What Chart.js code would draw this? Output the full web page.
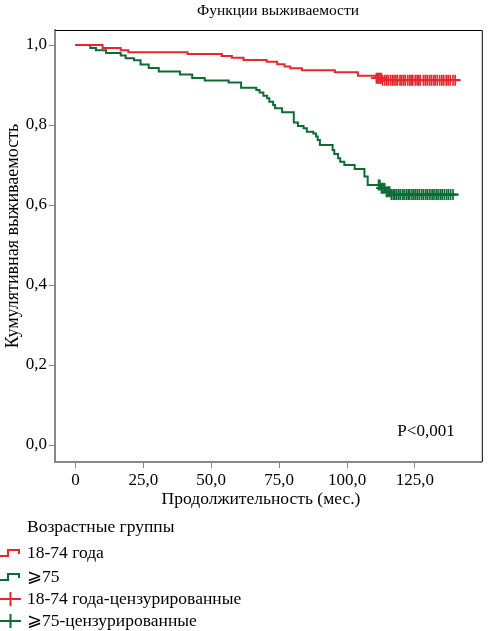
<!DOCTYPE html>
<html>
<head>
<meta charset="utf-8">
<script src="https://cdn.jsdelivr.net/npm/chart.js@4.4.1/dist/chart.umd.min.js"></script>
<style>body{margin:0;background:#fff}</style>
</head>
<body>
<canvas id="myChart" width="489" height="631"></canvas>
<script>
// Kaplan-Meier steps (months, cumulative survival)
const youngTimes = [0, 10, 16.7, 19.5, 41.3, 53.9, 57.6, 61.9, 70.4, 74.3, 77, 79.1, 83.4, 95.5, 104, 110.7, 113, 141.6];
const youngSurv  = [1.0, 0.9925, 0.987, 0.982, 0.9775, 0.9725, 0.968, 0.9625, 0.958, 0.952, 0.946, 0.942, 0.937, 0.932, 0.923, 0.917, 0.912, 0.912];

const oldTimes = [0, 5.5, 7.6, 11.3, 16.7, 18.5, 21.6, 24, 27, 30.7, 38.5, 43, 47.6, 56.4, 61, 66.6, 67.8, 69.2, 70.6, 71.4, 72.8, 73.5, 76.1, 80.4, 81.9, 84, 85.2, 87.6, 88.6, 89.2, 90, 94.7, 95.3, 96.7, 97.5, 99, 102.8, 106.4, 107.6, 112.5, 114.3, 116.1, 141];
const oldSurv  = [1.0, 0.9925, 0.987, 0.98, 0.974, 0.967, 0.962, 0.951, 0.9425, 0.934, 0.926, 0.9175, 0.911, 0.906, 0.893, 0.8875, 0.881, 0.873, 0.867, 0.858, 0.85, 0.842, 0.832, 0.806, 0.7975, 0.792, 0.783, 0.779, 0.771, 0.7625, 0.75, 0.7375, 0.7275, 0.717, 0.708, 0.70, 0.69, 0.671, 0.65, 0.642, 0.633, 0.626, 0.626];

// censored observations (months)
const youngCensored = [110.8, 111.3, 111.7, 112.2, 112.6, 113.1, 113.9, 114.6, 115.2, 116.0, 116.7, 117.3, 118.0, 118.6, 119.5, 120.1, 120.8, 121.4, 122.3, 123.0, 123.6, 124.2, 125.1, 125.8, 126.4, 127.0, 128.1, 128.8, 129.5, 130.3, 131.0, 131.8, 132.4, 133.2, 134.1, 134.9, 135.6, 136.5, 137.2, 138.0, 139.0, 139.8];
const oldCensored = [111.6, 112.1, 112.7, 113.2, 113.8, 114.5, 115.1, 115.7, 116.3, 117.0, 117.6, 118.3, 119.0, 119.6, 120.4, 121.0, 121.8, 122.5, 123.1, 123.9, 124.6, 125.3, 126.0, 126.7, 127.5, 128.2, 129.0, 129.7, 130.5, 131.3, 132.0, 132.8, 133.5, 134.3, 135.0, 135.8, 136.6, 137.3, 138.1, 139.0];

const xTicks = [0, 25, 50, 75, 100, 125];
const yTicks = [0, 0.2, 0.4, 0.6, 0.8, 1.0];

const groupNames = ['18-74 года', '\u2A7E75', '18-74 года-цензурированные', '\u2A7E75-цензурированные'];

const RED = '#e8262e';
const GREEN = '#0d6b34';
const SERIF = '"Liberation Serif", "DejaVu Serif", serif';

function survivalAt(times, surv, t) {
  let s = surv[0];
  for (let i = 0; i < times.length; i++) {
    if (times[i] <= t) s = surv[i];
  }
  return s;
}

function comma(v, keepZero) {
  if (v === 0 && !keepZero) return '0';
  return v.toFixed(1).replace('.', ',');
}

const ctx = document.getElementById('myChart').getContext('2d');

// frame, titles, p-value and the legend are painted after the chart
const decorations = {
  id: 'decorations',
  afterDraw(chart) {
    const c = chart.ctx;
    const a = chart.chartArea;
    c.save();
    c.strokeStyle = '#000';
    c.lineWidth = 1;
    c.beginPath();
    c.moveTo(a.left, a.top + 0.5);
    c.lineTo(a.right + 0.5, a.top + 0.5);
    c.lineTo(a.right + 0.5, a.bottom);
    c.stroke();

    c.fillStyle = '#000';
    c.textBaseline = 'middle';
    c.textAlign = 'center';
    c.font = '15.5px ' + SERIF;
    c.fillText('Функции выживаемости', 278, 11);
    c.font = '17.5px ' + SERIF;
    c.fillText('Продолжительность (мес.)', 261, 499);

    c.save();
    c.translate(13, 236);
    c.rotate(-Math.PI / 2);
    c.font = '18px ' + SERIF;
    c.fillText('Кумулятивная выживаемость', 0, 0);
    c.restore();

    c.font = '17px ' + SERIF;
    c.fillText('P<0,001', 426, 432);

    // legend
    c.textAlign = 'left';
    c.font = '17.5px ' + SERIF;
    c.fillText('Возрастные группы', 27, 527);
    const rows = [553, 577, 599, 621];
    const cols = [RED, GREEN, RED, GREEN];
    rows.forEach((y, i) => {
      c.strokeStyle = cols[i];
      c.lineWidth = 2;
      c.beginPath();
      if (i < 2) {
        c.moveTo(0, y + 3);
        c.lineTo(8, y + 3);
        c.lineTo(8, y - 3);
        c.lineTo(19, y - 3);
        c.lineTo(19, y + 1);
      } else {
        c.moveTo(0, y);
        c.lineTo(21, y);
        c.moveTo(10.5, y - 7);
        c.lineTo(10.5, y + 7);
      }
      c.stroke();
      c.fillStyle = '#000';
      c.fillText(groupNames[i], 27, y);
    });
    c.restore();
  }
};

const chart = new Chart(ctx, {
  type: 'line',
  data: {
    datasets: [
      {
        label: groupNames[0],
        data: youngTimes.map((t, i) => ({ x: t, y: youngSurv[i] })),
        borderColor: RED,
        borderWidth: 2,
        stepped: true,
        pointRadius: 0,
        fill: false
      },
      {
        label: groupNames[1],
        data: oldTimes.map((t, i) => ({ x: t, y: oldSurv[i] })),
        borderColor: GREEN,
        borderWidth: 2,
        stepped: true,
        pointRadius: 0,
        fill: false
      },
      {
        label: groupNames[2],
        data: youngCensored.map(t => ({ x: t, y: survivalAt(youngTimes, youngSurv, t) })),
        showLine: false,
        pointStyle: 'cross',
        pointRadius: 5.5,
        pointBorderWidth: 1.7,
        borderColor: RED,
        pointBorderColor: RED
      },
      {
        label: groupNames[3],
        data: oldCensored.map(t => ({ x: t, y: survivalAt(oldTimes, oldSurv, t) })),
        showLine: false,
        pointStyle: 'cross',
        pointRadius: 5.5,
        pointBorderWidth: 1.7,
        borderColor: GREEN,
        pointBorderColor: GREEN
      }
    ]
  },
  options: {
    responsive: false,
    animation: false,
    layout: { padding: { top: 30, right: 2, bottom: 139, left: 0 } },
    plugins: {
      legend: { display: false },
      tooltip: { enabled: false }
    },
    scales: {
      x: {
        type: 'linear',
        min: -7.5,
        max: 149.6,
        afterBuildTicks: s => { s.ticks = xTicks.map(v => ({ value: v })); },
        afterFit: s => { s.height = 30; },
        border: { display: true, color: '#888', width: 2 },
        grid: { drawOnChartArea: false, drawTicks: true, tickLength: 6, color: '#888', lineWidth: 1 },
        ticks: {
          padding: 2,
          color: '#000',
          font: { family: SERIF, size: 17 },
          maxRotation: 0,
          callback: v => comma(v, false)
        }
      },
      y: {
        type: 'linear',
        min: -0.0425,
        max: 1.0375,
        afterBuildTicks: s => { s.ticks = yTicks.map(v => ({ value: v })); },
        afterFit: s => { s.width = 55; },
        border: { display: true, color: '#888', width: 2 },
        grid: { drawOnChartArea: false, drawTicks: true, tickLength: 6, color: '#888', lineWidth: 1 },
        ticks: {
          padding: 2,
          color: '#000',
          font: { family: SERIF, size: 17 },
          callback: v => comma(v, true)
        }
      }
    }
  },
  plugins: [decorations]
});
</script>
</body>
</html>
